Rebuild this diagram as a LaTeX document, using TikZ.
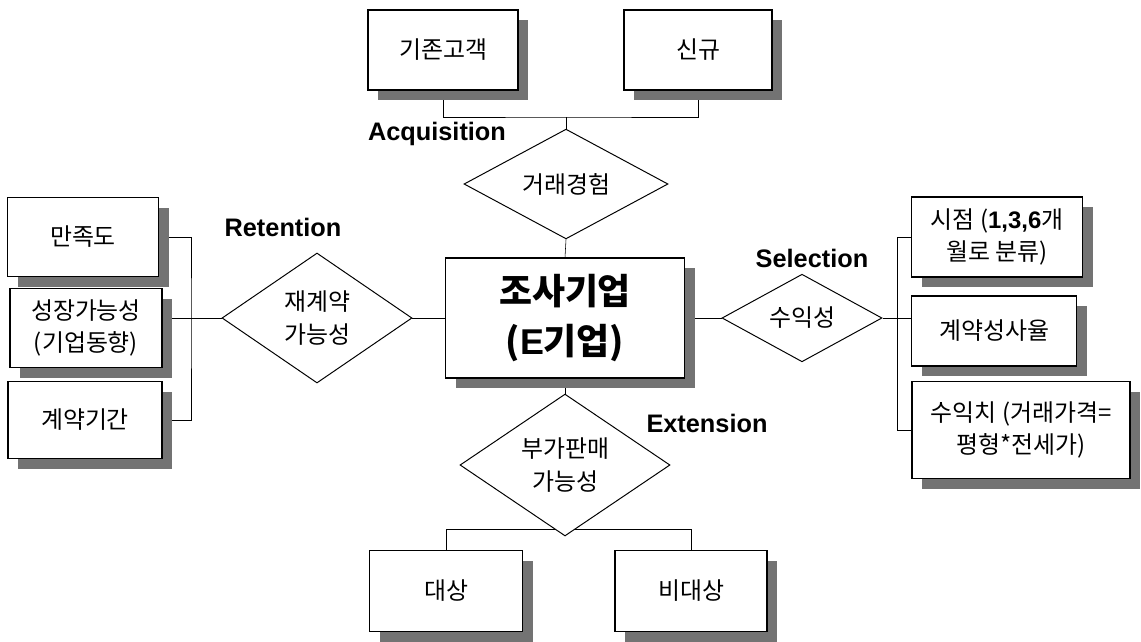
\documentclass[tikz,border=0pt]{standalone}
\usepackage{fontspec}
\setmainfont{Noto Sans CJK KR}
\newfontfamily\latfont{Liberation Sans}
\usetikzlibrary{shapes.geometric,shadows,backgrounds}

\newlength\ux
\setlength\ux{0.025cm}

\tikzset{
  box/.style={draw, fill=white, line width=0.8pt, inner sep=0pt, align=center,
    minimum width=150\ux, minimum height=80\ux,
    font=\fontsize{17}{23}\selectfont,
    drop shadow={shadow xshift=10\ux, shadow yshift=-10\ux, fill=black!55, opacity=1}},
  rel/.style={draw, diamond, fill=white, line width=0.7pt, inner sep=0pt, align=center,
    font=\fontsize{17}{23}\selectfont},
  tag/.style={font=\latfont\bfseries\fontsize{18}{20}\selectfont},
  link/.style={line width=0.7pt}
}

\begin{document}
\begin{tikzpicture}[x=0.025cm, y=-0.025cm]
\useasboundingbox (0,0) rectangle (1141,641);

% main entity
\node[box, minimum width=239\ux, minimum height=120\ux, font=\bfseries\fontsize{25.5}{35}\selectfont] (firm) at (565,318) {조사기업\\({\latfont E}기업)};

% acquisition
\node[rel, minimum width=204\ux, minimum height=74\ux] (deal) at (566,184) {거래경험};
\node[box, minimum width=150\ux] (old) at (443,50) {기존고객};
\node[box, minimum width=148\ux] (new) at (698,50) {신규};
\node[tag] (acqtag) at (437,134) {Acquisition};
\coordinate (acq) at (566,117);

% retention
\node[rel, minimum width=190\ux, minimum height=130\ux] (renew) at (317,318) {재계약\\가능성};
\node[box, minimum width=151\ux, minimum height=79\ux] (satis) at (83,237) {만족도};
\node[box, minimum width=152\ux, minimum height=79\ux] (growth) at (86,328) {성장가능성\\(기업동향)};
\node[box, minimum width=154\ux, minimum height=77\ux] (term) at (85,420) {계약기간};
\node[tag] (rettag) at (283,227) {Retention};
\coordinate (lbus) at (191,318);

% selection
\node[rel, minimum width=160\ux, minimum height=74\ux] (profit) at (802,318) {수익성};
\node[box, minimum width=171\ux, minimum height=80\ux] (timing) at (997,237) {시점 ({\latfont\bfseries 1,3,6}개\\월로 분류)};
\node[box, minimum width=165\ux, minimum height=70\ux] (rate) at (994,331) {계약성사율};
\node[box, minimum width=218\ux, minimum height=97\ux] (value) at (1021,430) {수익치 (거래가격=\\평형*전세가)};
\node[tag] (seltag) at (812,258) {Selection};
\coordinate (rbus) at (897,318);

% extension
\node[rel, minimum width=210\ux, minimum height=86\ux] (cross) at (565,465) {부가판매\\가능성};
\node[box, minimum width=153\ux, minimum height=81\ux] (target) at (446,591) {대상};
\node[box, minimum width=152\ux, minimum height=81\ux] (nontarget) at (691,591) {비대상};
\node[tag] (exttag) at (707,423) {Extension};
\coordinate (ext) at (565,529);

% connectors
\begin{scope}[on background layer, link]
\draw (old.south) |- (acq) -| (new.south);
\draw (acq) -- (deal.north);
\draw (deal.south) -- (firm.north);
\draw (satis.east) -| (lbus) |- (term.east);
\draw (growth.east |- lbus) -- (renew.west);
\draw (renew.east) -- (firm.west);
\draw (firm.east) -- (profit.west);
\draw (profit.east) -- (rate.west |- rbus);
\draw (timing.west) -| (rbus) |- (value.west);
\draw (firm.south) -- (cross.north);
\draw (cross.south) -- (ext);
\draw (target.north) |- (ext) -| (nontarget.north);
\end{scope}

\end{tikzpicture}
\end{document}
